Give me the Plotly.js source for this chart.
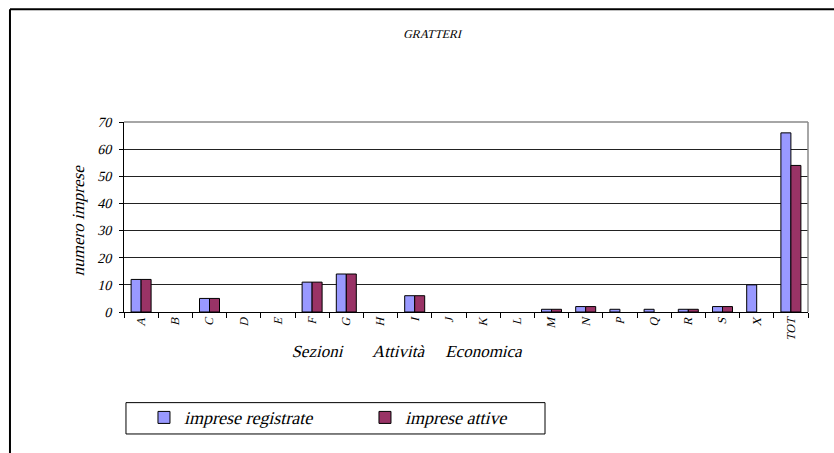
<!DOCTYPE html>
<html>
<head>
<meta charset="utf-8">
<script src="https://cdn.plot.ly/plotly-3.0.1.min.js"></script>
<style>
html,body{margin:0;padding:0;background:#fff;}
#chart{width:834px;height:453px;}
</style>
</head>
<body>
<div id="chart"></div>
<script>
var categories = ["A","B","C","D","E","F","G","H","I","J","K","L","M","N","P","Q","R","S","X","TOT"];
var impreseRegistrate = [12,0,5,0,0,11,14,0,6,0,0,0,1,2,1,1,1,2,10,66];
var impreseAttive     = [12,0,5,0,0,11,14,0,6,0,0,0,1,2,0,0,1,2,0,54];
var yTicks = [0,10,20,30,40,50,60,70];

var fontFam = 'Liberation Serif';
var NB = '\u00A0';
var ZW = '\u200B';
function rep(s, n){ var r=''; for(var i=0;i<n;i++) r+=s; return r; }
function hideZero(arr){ return arr.map(function(v){ return v === 0 ? null : v; }); }

var traces = [
  {type:'bar', name:'imprese registrate', x:categories, y:hideZero(impreseRegistrate),
   marker:{color:'#9999FF', line:{color:'#000', width:1}}},
  {type:'bar', name:'imprese attive', x:categories, y:hideZero(impreseAttive),
   marker:{color:'#993366', line:{color:'#000', width:1}}}
];

var layout = {
  width:834, height:453,
  margin:{l:124, r:26, t:122, b:141},
  paper_bgcolor:'#fff', plot_bgcolor:'#fff',
  font:{family:fontFam, color:'#000'},
  title:{text:'GRATTERI', font:{family:fontFam, size:12, color:'#000'},
         x:0.452, xref:'paper', xanchor:'center', y:0.925, yref:'container', yanchor:'middle'},
  barmode:'group', bargap:0.415, bargroupgap:0,
  showlegend:true,
  legend:{orientation:'h', x:0.0292, xanchor:'left', y:-0.459, yanchor:'top',
          font:{family:fontFam, size:18, color:'#000'},
          bgcolor:'rgba(0,0,0,0)', borderwidth:0, entrywidth:176, entrywidthmode:'pixels',
          itemclick:false},
  xaxis:{type:'category', tickmode:'array', tickvals:categories, ticktext:categories,
         tickangle:-90, tickfont:{family:fontFam, size:12, color:'#000'},
         showline:true, linecolor:'#000', linewidth:1, ticks:'outside', tickson:'boundaries',
         ticklen:5, tickcolor:'#000', showgrid:false, zeroline:false,
         title:{text:'Sezioni' + rep(NB,7) + 'Attività' + rep(NB,5) + 'Economica' + rep(NB,28) + ZW,
                font:{family:fontFam, size:17, color:'#000'}, standoff:5}},
  yaxis:{range:[0,70], tickmode:'array', tickvals:yTicks,
         tickfont:{family:fontFam, size:14, color:'#000'},
         showline:true, linecolor:'#000', linewidth:1, ticks:'outside', ticklen:4, tickcolor:'#000',
         ticklabelstandoff:5,
         showgrid:true, gridcolor:'#222', gridwidth:1, zeroline:false,
         title:{text:'numero imprese' + rep(NB,2) + ZW, font:{family:fontFam, size:17, color:'#000'}, standoff:8}},
  shapes:[
    {type:'line', xref:'paper', yref:'paper', x0:0, x1:1, y0:1, y1:1, line:{color:'#888', width:1.5}, layer:'above'},
    {type:'line', xref:'paper', yref:'paper', x0:1, x1:1, y0:0, y1:1, line:{color:'#888', width:1.5}, layer:'above'},
    {type:'rect', xref:'paper', yref:'paper', x0:0.0029, x1:0.6155, y0:-0.642, y1:-0.477, line:{color:'#000', width:1}, fillcolor:'rgba(0,0,0,0)'},
    {type:'line', xref:'paper', yref:'paper', x0:-0.1667, x1:1.2, y0:1.593, y1:1.593, line:{color:'#000', width:2}},
    {type:'line', xref:'paper', yref:'paper', x0:-0.1667, x1:-0.1667, y0:-0.8, y1:1.593, line:{color:'#000', width:2}}
  ]
};

// No serif italic face is installed, so slant the serif text to imitate Times Italic.
Plotly.newPlot('chart', traces, layout, {displayModeBar:false, staticPlot:true}).then(function(gd){
  var texts = gd.querySelectorAll('svg text');
  texts.forEach(function(t){
    if (!t.textContent) return;
    var x = parseFloat(t.getAttribute('x') || 0), y = parseFloat(t.getAttribute('y') || 0);
    var tr = t.getAttribute('transform') || '';
    t.setAttribute('transform', tr + ' translate(' + x + ',' + y + ') skewX(-14) translate(' + (-x) + ',' + (-y) + ')');
  });
});
</script>
</body>
</html>
